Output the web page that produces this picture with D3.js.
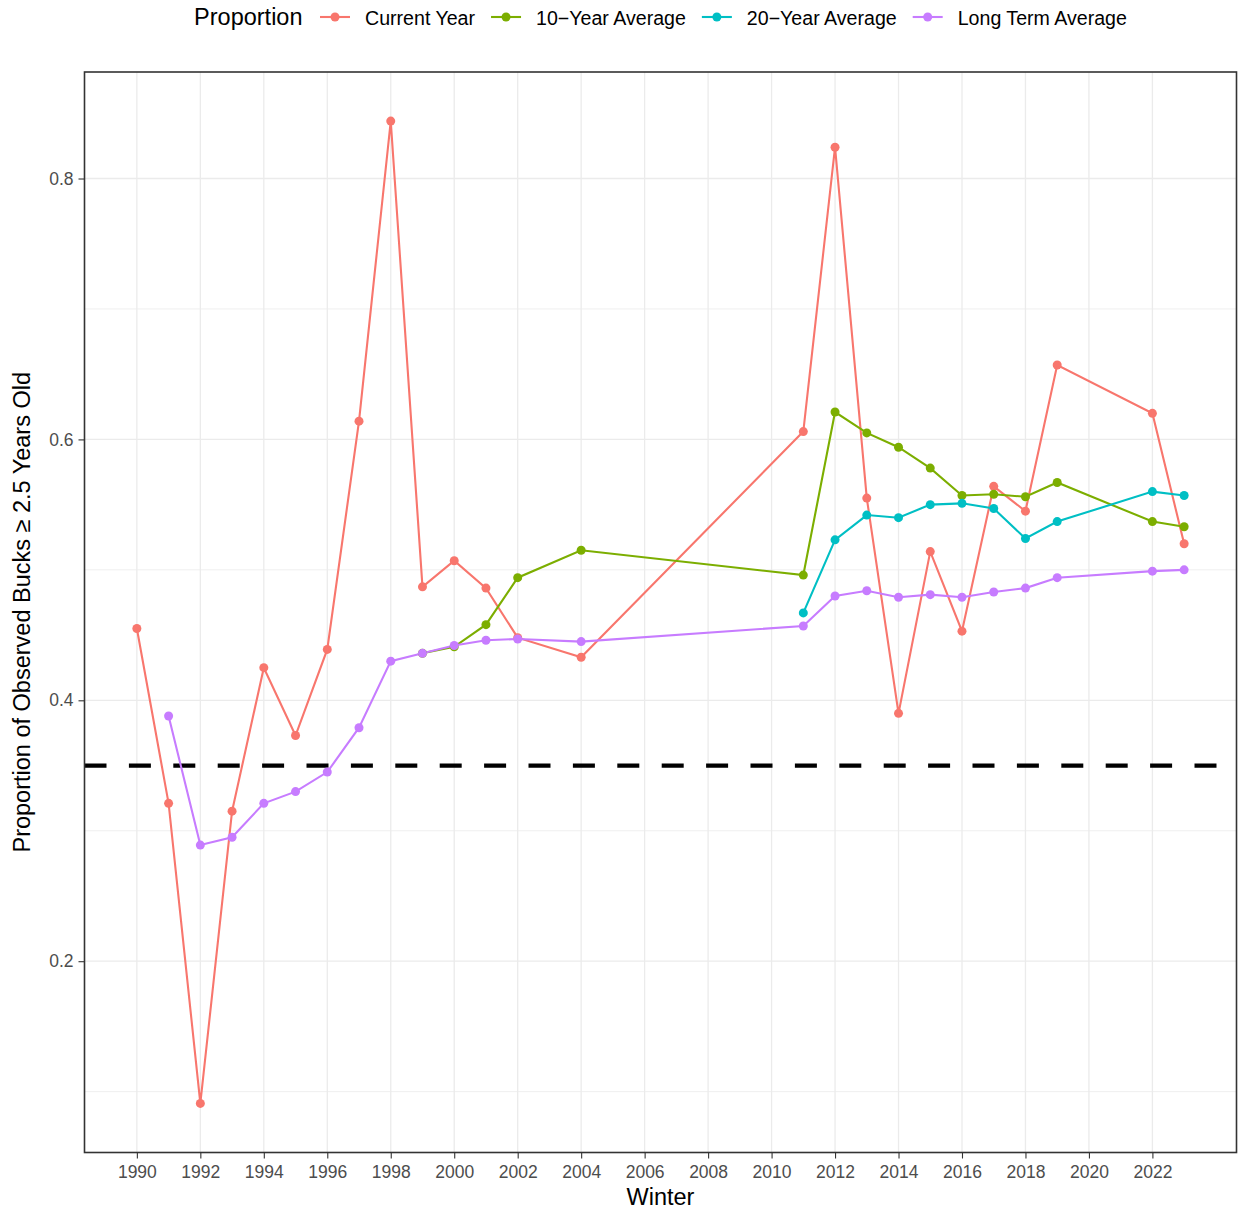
<!DOCTYPE html>
<html>
<head>
<meta charset="utf-8">
<script src="https://cdn.jsdelivr.net/npm/d3@7"></script>
<style>
  body { margin: 0; background: #fff; }
  svg text { font-family: "Liberation Sans", Arial, Helvetica, sans-serif; }
</style>
</head>
<body>
<div id="chart"></div>
<script>
// Values
const currentYears = [1990, 1991, 1992, 1993, 1994, 1995, 1996, 1997, 1998, 1999, 2000, 2001, 2002, 2004,
  2011, 2012, 2013, 2014, 2015, 2016, 2017, 2018, 2019, 2022, 2023];
const currentValues = [0.455, 0.321, 0.091, 0.315, 0.425, 0.373, 0.439, 0.614, 0.844, 0.487, 0.507, 0.486, 0.448, 0.433,
  0.606, 0.824, 0.555, 0.390, 0.514, 0.453, 0.564, 0.545, 0.657, 0.620, 0.520];

const tenYears = [1999, 2000, 2001, 2002, 2004, 2011, 2012, 2013, 2014, 2015, 2016, 2017, 2018, 2019, 2022, 2023];
const tenValues = [0.436, 0.441, 0.458, 0.494, 0.515, 0.496, 0.621, 0.605, 0.594, 0.578, 0.557, 0.558, 0.556, 0.567, 0.537, 0.533];

const twentyYears = [2011, 2012, 2013, 2014, 2015, 2016, 2017, 2018, 2019, 2022, 2023];
const twentyValues = [0.467, 0.523, 0.542, 0.540, 0.550, 0.551, 0.547, 0.524, 0.537, 0.560, 0.557];

const longYears = [1991, 1992, 1993, 1994, 1995, 1996, 1997, 1998, 1999, 2000, 2001, 2002, 2004,
  2011, 2012, 2013, 2014, 2015, 2016, 2017, 2018, 2019, 2022, 2023];
const longValues = [0.388, 0.289, 0.295, 0.321, 0.330, 0.345, 0.379, 0.430, 0.436, 0.442, 0.446, 0.447, 0.445,
  0.457, 0.480, 0.484, 0.479, 0.481, 0.479, 0.483, 0.486, 0.494, 0.499, 0.500];

const seriesNames = ["Current Year", "10\u2212Year Average", "20\u2212Year Average", "Long Term Average"];
const seriesColors = ["#F8766D", "#7CAE00", "#00BFC4", "#C77CFF"];

const xTicks = d3.range(1990, 2023, 2);
const yTicks = [0.2, 0.4, 0.6, 0.8];
const yMinor = [0.1, 0.3, 0.5, 0.7];
const threshold = 0.35;

const series = [
  [currentYears, currentValues],
  [tenYears, tenValues],
  [twentyYears, twentyValues],
  [longYears, longValues]
].map(([ys, vs], i) => ({
  name: seriesNames[i],
  color: seriesColors[i],
  points: ys.map((yr, j) => ({ year: yr, value: vs[j] }))
}));

const W = 1238, H = 1211;
const margin = { top: 72, right: 1.5, bottom: 58.5, left: 84.5 };
const width = W - margin.left - margin.right;
const height = H - margin.top - margin.bottom;

const svg = d3.select("#chart").append("svg")
  .attr("width", W)
  .attr("height", H);

// ggplot-style 5% expansion
const allPts = series.flatMap(s => s.points);
const xExt = d3.extent(allPts, d => d.year);
const yExt = d3.extent(allPts, d => d.value);
const xPad = (xExt[1] - xExt[0]) * 0.05;
const yPad = (yExt[1] - yExt[0]) * 0.05;

const x = d3.scaleLinear()
  .domain([xExt[0] - xPad, xExt[1] + xPad])
  .range([0, width]);

const y = d3.scaleLinear()
  .domain([yExt[0] - yPad, yExt[1] + yPad])
  .range([height, 0]);

const g = svg.append("g")
  .attr("transform", `translate(${margin.left},${margin.top})`);

g.append("clipPath").attr("id", "panel")
  .append("rect").attr("width", width).attr("height", height);

// grid
g.append("g").selectAll("line")
  .data(yMinor)
  .join("line")
  .attr("x1", 0).attr("x2", width)
  .attr("y1", d => y(d)).attr("y2", d => y(d))
  .attr("stroke", "#EBEBEB").attr("stroke-width", 0.8);

g.append("g").selectAll("line")
  .data(yTicks)
  .join("line")
  .attr("x1", 0).attr("x2", width)
  .attr("y1", d => y(d)).attr("y2", d => y(d))
  .attr("stroke", "#EBEBEB").attr("stroke-width", 1.3);

g.append("g").selectAll("line")
  .data(xTicks)
  .join("line")
  .attr("x1", d => x(d)).attr("x2", d => x(d))
  .attr("y1", 0).attr("y2", height)
  .attr("stroke", "#EBEBEB").attr("stroke-width", 1.3);

const plot = g.append("g").attr("clip-path", "url(#panel)");

// threshold line
plot.append("line")
  .attr("x1", 0).attr("x2", width)
  .attr("y1", y(threshold)).attr("y2", y(threshold))
  .attr("stroke", "#000")
  .attr("stroke-width", 4.3)
  .attr("stroke-dasharray", "22 22.4");

const line = d3.line()
  .x(d => x(d.year))
  .y(d => y(d.value));

plot.selectAll("path.series")
  .data(series)
  .join("path")
  .attr("class", "series")
  .attr("d", d => line(d.points))
  .attr("fill", "none")
  .attr("stroke", d => d.color)
  .attr("stroke-width", 2.1);

series.forEach(s => {
  plot.append("g").selectAll("circle")
    .data(s.points)
    .join("circle")
    .attr("cx", d => x(d.year))
    .attr("cy", d => y(d.value))
    .attr("r", 4.5)
    .attr("fill", s.color);
});

// panel border
g.append("rect")
  .attr("width", width).attr("height", height)
  .attr("fill", "none")
  .attr("stroke", "#333333")
  .attr("stroke-width", 1.6);

// axes
const xAxis = g.append("g")
  .attr("transform", `translate(0,${height})`)
  .call(d3.axisBottom(x).tickValues(xTicks).tickFormat(d3.format("d")).tickSize(6).tickPadding(7));

const yAxis = g.append("g")
  .call(d3.axisLeft(y).tickValues(yTicks).tickFormat(d3.format(".1f")).tickSize(6).tickPadding(5));

[xAxis, yAxis].forEach(a => {
  a.select(".domain").remove();
  a.selectAll(".tick line").attr("stroke", "#333333").attr("stroke-width", 1.1);
  a.selectAll(".tick text")
    .attr("fill", "#4D4D4D")
    .style("font-size", "17.5px");
});

// axis titles
svg.append("text")
  .attr("x", margin.left + width / 2)
  .attr("y", 1205)
  .attr("text-anchor", "middle")
  .style("font-size", "23.5px")
  .attr("fill", "#000")
  .text("Winter");

svg.append("text")
  .attr("transform", `translate(30,${margin.top + height / 2}) rotate(-90)`)
  .attr("text-anchor", "middle")
  .style("font-size", "23.5px")
  .attr("fill", "#000")
  .text("Proportion of Observed Bucks \u2265 2.5 Years Old");

// legend on top
const legend = svg.append("g");
const title = legend.append("text")
  .attr("y", 24.7)
  .style("font-size", "23.5px")
  .attr("fill", "#000")
  .text("Proportion");

let cursor = title.node().getComputedTextLength() + 17.5;
series.forEach(s => {
  const item = legend.append("g").attr("transform", `translate(${cursor},0)`);
  item.append("line")
    .attr("x1", 0).attr("x2", 30)
    .attr("y1", 17).attr("y2", 17)
    .attr("stroke", s.color).attr("stroke-width", 2.1);
  item.append("circle")
    .attr("cx", 15).attr("cy", 17).attr("r", 4.5)
    .attr("fill", s.color);
  const t = item.append("text")
    .attr("x", 45).attr("y", 24.5)
    .style("font-size", "19.6px")
    .attr("fill", "#000")
    .text(s.name);
  cursor += 45 + t.node().getComputedTextLength() + 16;
});
const legendWidth = cursor - 16;
legend.attr("transform", `translate(${margin.left + width / 2 - legendWidth / 2},0)`);
</script>
</body>
</html>
